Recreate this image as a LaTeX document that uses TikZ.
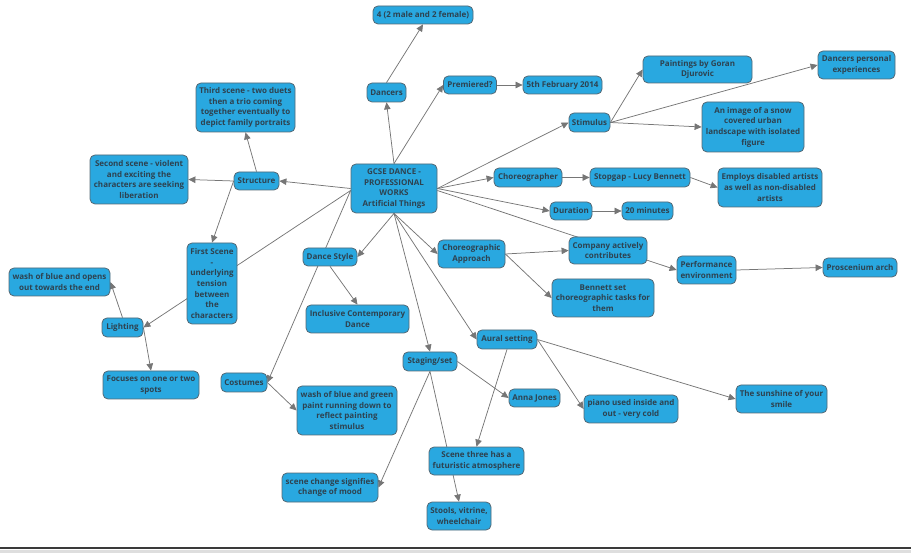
\documentclass[tikz,border=0pt]{standalone}
\usepackage{fontspec}
\setmainfont{Open Sans}
\usetikzlibrary{
    arrows.meta,
    backgrounds
}
\definecolor{boxfill}{RGB}{41,168,224}
\definecolor{boxborder}{RGB}{84,104,116}
\definecolor{boxtext}{RGB}{46,66,80}
\definecolor{edgecol}{RGB}{118,118,118}
\definecolor{framecol}{RGB}{58,58,58}
\tikzset{
    % Boxes
    box/.style={draw=boxborder,fill=boxfill,text=boxtext,line width=0.8pt,
        rounded corners=5pt,align=center,inner sep=1pt,
        font=\fontsize{8}{10.7}\selectfont\bfseries},
    wh/.style 2 args={minimum width=#1pt,minimum height=#2pt},
    %
    % Arrows
    arrow tip/.tip={Triangle[length=7pt,width=6.5pt]},
    arr/.style={->,>={arrow tip},draw=edgecol,line width=0.75pt}
}

\begin{document}
\begin{tikzpicture}[x=1pt,y=-1pt]
    \useasboundingbox (0,0) rectangle (911,553);
    % centre
    \node[box,wh={86}{49}] (centre) at (394,188.5) {GCSE DANCE -\\PROFESSIONAL\\WORKS\\Artificial Things};
    % top
    \node[box,wh={39}{19}] (dancers) at (386.5,92.5) {Dancers};
    \node[box,wh={100}{18}] (four) at (423,15) {4 (2 male and 2 female)};
    \node[box,wh={53}{18}] (premiered) at (470,85) {Premiered?};
    \node[box,wh={79}{18}] (date) at (562.5,85) {5th February 2014};
    % right
    \node[box,wh={41}{19}] (stimulus) at (589.5,122.5) {Stimulus};
    \node[box,wh={109}{27}] (paintings) at (697.5,69.5) {Paintings by Goran\\Djurovic};
    \node[box,wh={77}{28}] (personal) at (856.5,65) {Dancers personal\\experiences};
    \node[box,wh={102}{50}] (image) at (753,127) {An image of a snow\\covered urban\\landscape with isolated\\figure};
    \node[box,wh={68}{19}] (choreographer) at (528,177.5) {Choreographer};
    \node[box,wh={100}{19}] (stopgap) at (640,177.5) {Stopgap - Lucy Bennett};
    \node[box,wh={104}{39}] (employs) at (770,187.5) {Employs disabled artists\\as well as non-disabled\\artists};
    \node[box,wh={42}{18}] (duration) at (571,211) {Duration};
    \node[box,wh={51}{18}] (minutes) at (647.5,211) {20 minutes};
    \node[box,wh={67}{28}] (approach) at (471.5,254) {Choreographic\\Approach};
    \node[box,wh={78}{27}] (company) at (608,250.5) {Company actively\\contributes};
    \node[box,wh={102}{38}] (bennett) at (603,298) {Bennett set\\choreographic tasks for\\them};
    \node[box,wh={59}{28}] (environment) at (706.5,270) {Performance\\environment};
    \node[box,wh={74}{19}] (proscenium) at (860,267.5) {Proscenium arch};
    % left
    \node[box,wh={45}{18}] (structure) at (256.5,181) {Structure};
    \node[box,wh={99}{49}] (third) at (245.5,107.5) {Third scene - two duets\\then a trio coming\\together eventually to\\depict family portraits};
    \node[box,wh={98}{49}] (second) at (139,179.5) {Second scene - violent\\and exciting the\\characters are seeking\\liberation};
    \node[box,wh={50}{81}] (first) at (212,283.5) {First Scene\\-\\underlying\\tension\\between\\the\\characters};
    \node[box,wh={41}{19}] (lighting) at (122.5,327.5) {Lighting};
    \node[box,wh={101}{28}] (bluewash) at (59.5,282) {wash of blue and opens\\out towards the end};
    \node[box,wh={96}{28}] (spots) at (151,385) {Focuses on one or two\\spots};
    \node[box,wh={54}{18}] (dancestyle) at (330,257) {Dance Style};
    \node[box,wh={103}{28}] (inclusive) at (357.5,319) {Inclusive Contemporary\\Dance};
    \node[box,wh={46}{19}] (costumes) at (244,382.5) {Costumes};
    \node[box,wh={100}{49}] (paint) at (347,410.5) {wash of blue and green\\paint running down to\\reflect painting\\stimulus};
    % bottom
    \node[box,wh={54}{19}] (staging) at (430,361.5) {Staging/set};
    \node[box,wh={51}{18}] (anna) at (534.5,398) {Anna Jones};
    \node[box,wh={96}{29}] (moodchange) at (330,487.5) {scene change signifies\\change of mood};
    \node[box,wh={95}{28}] (scenethree) at (476.5,461) {Scene three has a\\futuristic atmosphere};
    \node[box,wh={64}{28}] (stools) at (459,516) {Stools, vitrine,\\wheelchair};
    \node[box,wh={60}{19}] (aural) at (507,339.5) {Aural setting};
    \node[box,wh={94}{28}] (piano) at (631,409) {piano used inside and\\out - very cold};
    \node[box,wh={91}{28}] (sunshine) at (781.5,399) {The sunshine of your\\smile};

    \begin{scope}[on background layer]
        \draw[arr] (centre.north) -- (dancers.south);
        \draw[arr] (dancers.north) -- (four.south);
        \draw[arr] (centre.north) -- (premiered.west);
        \draw[arr] (premiered.east) -- (date.west);
        \draw[arr] (centre.east) -- (stimulus.west);
        \draw[arr] (stimulus.east) -- (paintings.west);
        \draw[arr] (stimulus.east) -- (personal.west);
        \draw[arr] (stimulus.east) -- (image.west);
        \draw[arr] (centre.east) -- (choreographer.west);
        \draw[arr] (choreographer.east) -- (stopgap.west);
        \draw[arr] (stopgap.east) -- (employs.west);
        \draw[arr] (centre.east) -- (duration.west);
        \draw[arr] (duration.east) -- (minutes.west);
        \draw[arr] ([yshift=-2pt]centre.east) -- (environment.west);
        \draw[arr] (environment.east) -- (proscenium.west);
        \draw[arr] (centre.south) -- (approach.west);
        \draw[arr] (approach.east) -- (company.west);
        \draw[arr] (approach.east) -- (bennett.west);
        \draw[arr] (centre.west) -- (structure.east);
        \draw[arr] (structure.north) -- (third.south);
        \draw[arr] (structure.west) -- (second.east);
        \draw[arr] (structure.west) -- (first.north);
        \draw[arr] ([yshift=-2pt]centre.west) -- (lighting.east);
        \draw[arr] (lighting.north) -- (bluewash.east);
        \draw[arr] (lighting.east) -- (spots.north);
        \draw[arr] (centre.south) -- (dancestyle.east);
        \draw[arr] (dancestyle.south) -- (inclusive.north);
        \draw[arr] ([yshift=-2pt]centre.west) -- (costumes.east);
        \draw[arr] (costumes.east) -- (paint.west);
        \draw[arr] (centre.south) -- (staging.north);
        \draw[arr] (staging.east) -- (anna.west);
        \draw[arr] (staging.south) -- (moodchange.east);
        \draw[arr] (staging.south) -- (stools.north);
        \draw[arr] (centre.south) -- (aural.west);
        \draw[arr] (aural.south) -- (scenethree.north);
        \draw[arr] (aural.east) -- (piano.west);
        \draw[arr] (aural.east) -- (sunshine.west);
    \end{scope}

    % frame at the foot
    \fill[black!13] (0,549.5) rectangle (911,553);
    \draw[framecol,line width=2.6pt] (0,548) -- (911,548);
\end{tikzpicture}
\end{document}
